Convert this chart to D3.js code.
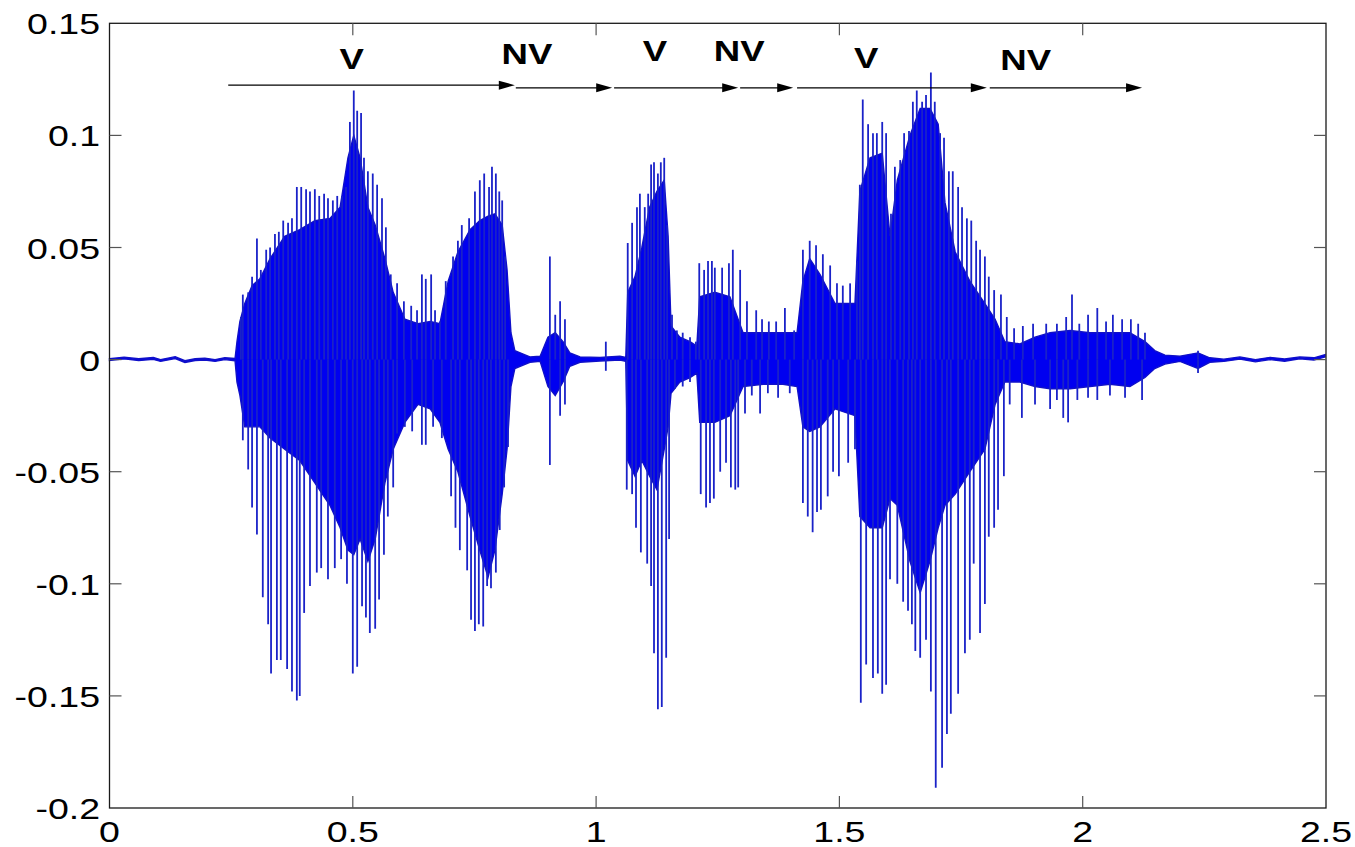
<!DOCTYPE html>
<head>
    <meta charset="utf-8">
    <style>
        body { margin: 0; background: #fff; }
        text { font-family: "Liberation Sans", Arial, sans-serif; }
    </style>
    <script src="https://cdn.jsdelivr.net/npm/d3@7"></script>
</head>
<body>
<div id="block"></div>
<script>

    // waveform envelope of the dense part (time in s, upper, lower)
    var bodyTime = [0.00, 0.03, 0.06, 0.09, 0.105, 0.135, 0.155, 0.176, 0.196, 0.217, 0.237, 0.258,
        0.262, 0.268, 0.278, 0.293, 0.309, 0.330, 0.360, 0.391, 0.422, 0.453, 0.474, 0.490, 0.502, 0.515,
        0.531, 0.546, 0.566, 0.583, 0.607, 0.634, 0.659, 0.679, 0.696, 0.716, 0.741, 0.761, 0.778, 0.792,
        0.807, 0.817, 0.825, 0.833, 0.844, 0.864, 0.885, 0.901, 0.916, 0.932, 0.946, 0.967, 1.008, 1.049, 1.061,
        1.065, 1.080, 1.094, 1.110, 1.125, 1.140, 1.148, 1.154, 1.172, 1.193, 1.207,
        1.213, 1.244, 1.275, 1.302, 1.343, 1.384, 1.413,
        1.425, 1.439, 1.460, 1.491, 1.532, 1.542, 1.563, 1.588, 1.604, 1.619, 1.645, 1.666, 1.686, 1.703,
        1.717, 1.738, 1.768, 1.799, 1.820, 1.840, 1.871, 1.902, 1.933, 1.974, 2.015, 2.056, 2.097, 2.128,
        2.148, 2.169, 2.200, 2.237, 2.261, 2.290, 2.323, 2.355, 2.385, 2.415, 2.446, 2.475, 2.498];
    var bodyUpper = [0.0004, 0.0011, 0.0004, 0.0009, 0.0000, 0.0013, -0.0005, 0.0004, 0.0006, 0.0000, 0.0008, 0.0005,
        0.008, 0.017, 0.025, 0.033, 0.036, 0.045, 0.055, 0.058, 0.062, 0.063, 0.068, 0.090, 0.100, 0.090,
        0.068, 0.060, 0.045, 0.030, 0.018, 0.016, 0.017, 0.016, 0.035, 0.048, 0.058, 0.062, 0.064, 0.065,
        0.060, 0.040, 0.012, 0.004, 0.003, 0.0012, 0.0015, 0.010, 0.012, 0.008, 0.003, 0.0012, 0.0010, 0.0015, 0.0010,
        0.030, 0.037, 0.050, 0.068, 0.075, 0.080, 0.055, 0.015, 0.010, 0.008, 0.006,
        0.028, 0.030, 0.028, 0.012, 0.012, 0.012, 0.012,
        0.035, 0.045, 0.038, 0.025, 0.025, 0.075, 0.090, 0.092, 0.055, 0.080, 0.100, 0.112, 0.112, 0.105,
        0.070, 0.048, 0.035, 0.025, 0.018, 0.008, 0.007, 0.010, 0.012, 0.013, 0.012, 0.012, 0.012, 0.008,
        0.004, 0.002, 0.0015, 0.003, 0.0008, 0.0002, 0.0012, 0.0000, 0.0010, 0.0003, 0.0012, 0.0008, 0.0022];
    var bodyLower = [-0.0004, 0.0003, -0.0004, 0.0001, -0.0008, 0.0005, -0.0013, -0.0004, -0.0002, -0.0008, 0.0000, -0.0005,
        -0.010, -0.016, -0.030, -0.030, -0.030, -0.035, -0.040, -0.045, -0.055, -0.065, -0.075, -0.085, -0.087, -0.080,
        -0.090, -0.080, -0.055, -0.040, -0.028, -0.020, -0.022, -0.028, -0.040, -0.050, -0.070, -0.085, -0.097, -0.085,
        -0.060, -0.040, -0.012, -0.004, -0.003, -0.0012, -0.0008, -0.012, -0.016, -0.010, -0.003, -0.0012, -0.0006, -0.0002, -0.0008,
        -0.045, -0.052, -0.045, -0.052, -0.058, -0.040, -0.030, -0.015, -0.010, -0.008, -0.006,
        -0.028, -0.028, -0.025, -0.012, -0.011, -0.011, -0.012,
        -0.030, -0.032, -0.030, -0.022, -0.025, -0.070, -0.075, -0.075, -0.062, -0.065, -0.090, -0.104, -0.090, -0.075,
        -0.065, -0.060, -0.050, -0.040, -0.020, -0.010, -0.010, -0.012, -0.013, -0.013, -0.012, -0.011, -0.012, -0.008,
        -0.004, -0.002, -0.0008, -0.004, -0.0012, -0.0008, 0.0002, -0.0010, 0.0000, -0.0007, 0.0004, -0.0002, 0.0012];

    // single pitch pulses that stick out of the envelope
    var spikeUpTime = [0.270, 0.274, 0.285, 0.293, 0.303, 0.311, 0.322, 0.330, 0.340, 0.348, 0.357, 0.367, 0.375,
        0.385, 0.394, 0.404, 0.412, 0.422, 0.431, 0.441, 0.449, 0.459, 0.468, 0.478, 0.486, 0.494, 0.502, 0.509,
        0.517, 0.523, 0.531, 0.541, 0.550, 0.560, 0.568, 0.578, 0.591, 0.605, 0.620, 0.632, 0.642, 0.650, 0.661,
        0.669, 0.679, 0.691, 0.706, 0.716, 0.724, 0.739, 0.751, 0.761, 0.770, 0.780, 0.786, 0.794, 0.801, 0.807, 0.813,
        0.905, 0.916, 0.926, 0.936, 1.020,
        1.065, 1.074, 1.084, 1.090, 1.100, 1.107, 1.113, 1.119, 1.127, 1.133, 1.140, 1.146, 1.156, 1.166, 1.178, 1.193, 1.205,
        1.212, 1.222, 1.230, 1.238, 1.244, 1.259, 1.273, 1.281, 1.296, 1.310, 1.329, 1.341, 1.355, 1.370, 1.388, 1.407,
        1.425, 1.439, 1.452, 1.466, 1.481, 1.495, 1.507, 1.522, 1.536, 1.542, 1.548, 1.559, 1.569, 1.577, 1.588, 1.596,
        1.606, 1.614, 1.625, 1.633, 1.643, 1.651, 1.659, 1.670, 1.678, 1.688, 1.696, 1.707, 1.715, 1.725, 1.733, 1.744,
        1.752, 1.762, 1.771, 1.781, 1.789, 1.799, 1.807, 1.818, 1.832, 1.844, 1.859, 1.877, 1.898, 1.925, 1.947, 1.966,
        1.978, 1.993, 2.011, 2.030, 2.048, 2.062, 2.081, 2.099, 2.114, 2.128, 2.237];
    var spikeUpValue = [0.019, 0.029, 0.030, 0.037, 0.054, 0.040, 0.049, 0.050, 0.056, 0.057, 0.062, 0.061, 0.063,
        0.077, 0.077, 0.076, 0.075, 0.076, 0.073, 0.074, 0.072, 0.071, 0.073, 0.073, 0.077, 0.106, 0.120, 0.111,
        0.110, 0.090, 0.084, 0.083, 0.078, 0.072, 0.059, 0.038, 0.034, 0.026, 0.024, 0.022, 0.038, 0.036, 0.038,
        0.022, 0.017, 0.035, 0.046, 0.053, 0.060, 0.063, 0.075, 0.080, 0.083, 0.077, 0.086, 0.083, 0.075, 0.071, 0.046,
        0.046, 0.020, 0.026, 0.018, 0.008,
        0.052, 0.061, 0.068, 0.074, 0.068, 0.074, 0.087, 0.088, 0.083, 0.088, 0.090, 0.060, 0.020, 0.013, 0.012, 0.010, 0.008,
        0.043, 0.040, 0.044, 0.044, 0.041, 0.041, 0.043, 0.049, 0.040, 0.026, 0.022, 0.018, 0.017, 0.017, 0.023, 0.013,
        0.049, 0.053, 0.051, 0.047, 0.042, 0.034, 0.033, 0.034, 0.044, 0.078, 0.116, 0.105, 0.101, 0.101, 0.106, 0.101,
        0.065, 0.086, 0.089, 0.101, 0.102, 0.115, 0.120, 0.115, 0.118, 0.128, 0.115, 0.101, 0.099, 0.084, 0.084, 0.077,
        0.068, 0.063, 0.062, 0.053, 0.049, 0.046, 0.037, 0.031, 0.029, 0.019, 0.014, 0.015, 0.016, 0.016, 0.016, 0.019,
        0.029, 0.016, 0.020, 0.023, 0.017, 0.020, 0.018, 0.018, 0.016, 0.012, 0.004];

    var spikeDownTime = [0.274, 0.285, 0.293, 0.303, 0.315, 0.326, 0.332, 0.344, 0.352, 0.365, 0.375, 0.385, 0.391,
        0.400, 0.412, 0.426, 0.435, 0.449, 0.463, 0.476, 0.488, 0.500, 0.509, 0.519, 0.527, 0.535, 0.546, 0.554,
        0.564, 0.572, 0.583, 0.591, 0.607, 0.622, 0.642, 0.650, 0.665, 0.683, 0.702, 0.711, 0.720, 0.735, 0.743,
        0.751, 0.759, 0.768, 0.776, 0.784, 0.794, 0.802, 0.811, 0.819,
        0.905, 0.926, 0.936, 1.020,
        1.063, 1.074, 1.082, 1.092, 1.105, 1.113, 1.119, 1.127, 1.135, 1.144, 1.150, 1.162, 1.178, 1.193,
        1.215, 1.226, 1.234, 1.242, 1.255, 1.267, 1.277, 1.286, 1.292, 1.306, 1.320, 1.337, 1.353, 1.374, 1.398,
        1.425, 1.435, 1.445, 1.454, 1.462, 1.476, 1.487, 1.499, 1.518, 1.532, 1.544, 1.555, 1.569, 1.579, 1.588, 1.596,
        1.604, 1.619, 1.631, 1.641, 1.649, 1.656, 1.666, 1.678, 1.688, 1.698, 1.711, 1.721, 1.729, 1.744, 1.758, 1.768,
        1.776, 1.789, 1.799, 1.807, 1.818, 1.826, 1.838, 1.850, 1.875, 1.902, 1.933, 1.947, 1.960, 1.970, 1.989, 2.011,
        2.030, 2.056, 2.087, 2.122, 2.237];
    var spikeDownValue = [-0.036, -0.049, -0.066, -0.078, -0.106, -0.118, -0.140, -0.134, -0.134, -0.138, -0.148, -0.152, -0.150,
        -0.113, -0.101, -0.095, -0.093, -0.098, -0.093, -0.089, -0.100, -0.140, -0.137, -0.110, -0.115, -0.122, -0.120, -0.107,
        -0.087, -0.070, -0.057, -0.033, -0.030, -0.032, -0.038, -0.038, -0.030, -0.035, -0.061, -0.075, -0.085, -0.094, -0.116,
        -0.121, -0.118, -0.119, -0.101, -0.102, -0.095, -0.076, -0.057, -0.039,
        -0.047, -0.025, -0.020, -0.005,
        -0.058, -0.060, -0.075, -0.086, -0.091, -0.101, -0.131, -0.156, -0.155, -0.133, -0.080, -0.013, -0.012, -0.010,
        -0.060, -0.066, -0.064, -0.062, -0.050, -0.046, -0.057, -0.058, -0.057, -0.024, -0.016, -0.024, -0.015, -0.017, -0.015,
        -0.064, -0.070, -0.077, -0.068, -0.067, -0.061, -0.050, -0.052, -0.046, -0.040, -0.153, -0.136, -0.142, -0.140, -0.149, -0.145,
        -0.098, -0.100, -0.108, -0.112, -0.118, -0.130, -0.133, -0.125, -0.148, -0.191, -0.182, -0.167, -0.158, -0.149, -0.131, -0.125,
        -0.091, -0.122, -0.109, -0.079, -0.075, -0.067, -0.052, -0.020, -0.026, -0.020, -0.022, -0.018, -0.026, -0.028, -0.018, -0.017,
        -0.018, -0.016, -0.017, -0.018, -0.006];

    // voiced / non-voiced annotation
    var arrowStart = [0.244, 0.835, 1.037, 1.296, 1.413, 1.809];
    var arrowEnd   = [0.833, 1.033, 1.292, 1.405, 1.803, 2.122];
    var arrowLevel = [0.1224, 0.1212, 0.1212, 0.1212, 0.1212, 0.1212];
    var labelText  = ["V", "NV", "V", "NV", "V", "NV"];
    var labelTime  = [0.498, 0.858, 1.121, 1.294, 1.555, 1.883];
    var labelLevel = [0.1296, 0.1318, 0.1331, 0.133, 0.130, 0.129];

    var xTicks = [0, 0.5, 1, 1.5, 2, 2.5];
    var yTicks = [0.15, 0.1, 0.05, 0, -0.05, -0.1, -0.15, -0.2];

    var w = 1355,
        h = 847;

    var svg = d3.select("#block")
                .append("svg")
                .attr("width", w)
                .attr("height", h);

    var x = d3.scaleLinear().domain([0, 2.5]).range([109.5, 1326]);
    var y = d3.scaleLinear().domain([-0.2, 0.15]).range([808, 23.3]);

    var blue = "#0000f0";

    // dense body
    var body = bodyTime.map(function(t, i) { return [t, bodyUpper[i], bodyLower[i]]; });

    var area = d3.area()
                 .x(function(d) { return x(d[0]); })
                 .y0(function(d) { return y(d[2]); })
                 .y1(function(d) { return y(d[1]); });

    svg.append("path")
       .datum(body)
       .attr("d", area)
       .attr("fill", blue)
       .attr("stroke", "#1010c8")
       .attr("stroke-width", 1.4);

    // spikes
    var spikes = spikeUpTime.map(function(t, i) { return [t, spikeUpValue[i]]; })
        .concat(spikeDownTime.map(function(t, i) { return [t, spikeDownValue[i]]; }));

    svg.append("g")
       .selectAll("line")
       .data(spikes)
       .enter()
       .append("line")
       .attr("x1", function(d) { return x(d[0]); })
       .attr("x2", function(d) { return x(d[0]); })
       .attr("y1", y(0))
       .attr("y2", function(d) { return y(d[1]); })
       .attr("stroke", "#1a22c8")
       .attr("stroke-width", 1.8);

    // box + ticks (matlab style, inward on all sides)
    var axisColor = "#1a1a1a";
    svg.append("rect")
       .attr("x", x(0)).attr("y", y(0.15))
       .attr("width", x(2.5) - x(0)).attr("height", y(-0.2) - y(0.15))
       .attr("fill", "none")
       .attr("stroke", axisColor)
       .attr("stroke-width", 1.3);

    var tickLen = 12;
    var tickColor = "#555";

    svg.append("g").selectAll("line")
       .data(xTicks.slice(1, -1))
       .enter().append("line")
       .attr("x1", x).attr("x2", x)
       .attr("y1", y(-0.2)).attr("y2", y(-0.2) - tickLen)
       .attr("stroke", tickColor).attr("stroke-width", 1.2);

    svg.append("g").selectAll("line")
       .data(xTicks.slice(1, -1))
       .enter().append("line")
       .attr("x1", x).attr("x2", x)
       .attr("y1", y(0.15)).attr("y2", y(0.15) + tickLen)
       .attr("stroke", tickColor).attr("stroke-width", 1.2);

    svg.append("g").selectAll("line")
       .data(yTicks.slice(1, -1))
       .enter().append("line")
       .attr("y1", y).attr("y2", y)
       .attr("x1", x(0)).attr("x2", x(0) + tickLen)
       .attr("stroke", tickColor).attr("stroke-width", 1.2);

    svg.append("g").selectAll("line")
       .data(yTicks.slice(1, -1))
       .enter().append("line")
       .attr("y1", y).attr("y2", y)
       .attr("x1", x(2.5)).attr("x2", x(2.5) - tickLen)
       .attr("stroke", tickColor).attr("stroke-width", 1.2);

    var fmt = function(d) { return String(d); };

    // tick labels, stretched like the original
    svg.append("g").selectAll("g")
       .data(yTicks)
       .enter().append("g")
       .attr("transform", function(d) { return "translate(" + 100 + "," + (y(d) + 11) + ")"; })
       .append("text")
       .attr("transform", "scale(1.25,1)")
       .attr("text-anchor", "end")
       .style("font-size", "30px")
       .attr("fill", "#000")
       .text(fmt);

    svg.append("g").selectAll("g")
       .data(xTicks)
       .enter().append("g")
       .attr("transform", function(d) { return "translate(" + x(d) + "," + (y(-0.2) + 34) + ")"; })
       .append("text")
       .attr("transform", "scale(1.25,1)")
       .attr("text-anchor", "middle")
       .style("font-size", "30px")
       .attr("fill", "#000")
       .text(fmt);

    // arrows
    var arrows = arrowStart.map(function(s, i) { return [s, arrowEnd[i], arrowLevel[i]]; });

    var ag = svg.append("g").selectAll("g")
                .data(arrows)
                .enter().append("g");

    ag.append("line")
      .attr("x1", function(d) { return x(d[0]); })
      .attr("x2", function(d) { return x(d[1]) - 10; })
      .attr("y1", function(d) { return y(d[2]); })
      .attr("y2", function(d) { return y(d[2]); })
      .attr("stroke", "#000")
      .attr("stroke-width", 1.3);

    ag.append("path")
      .attr("d", function(d) {
          var tx = x(d[1]), ty = y(d[2]);
          return "M" + tx + "," + ty + "L" + (tx - 16) + "," + (ty - 4.5) + "L" + (tx - 16) + "," + (ty + 4.5) + "Z";
      })
      .attr("fill", "#000");

    svg.append("g").selectAll("g")
       .data(labelText)
       .enter().append("g")
       .attr("transform", function(d, i) { return "translate(" + x(labelTime[i]) + "," + y(labelLevel[i]) + ")"; })
       .append("text")
       .attr("transform", "scale(1.22,1)")
       .attr("text-anchor", "middle")
       .style("font-size", "30px")
       .style("font-weight", "bold")
       .attr("fill", "#000")
       .text(function(d) { return d; });

</script>
</body>
